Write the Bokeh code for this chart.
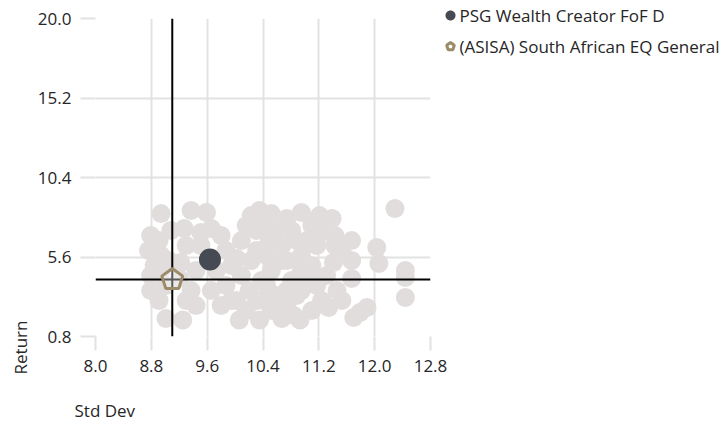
from bokeh.plotting import figure
from bokeh.models import FixedTicker, NumeralTickFormatter, Span
from bokeh.core.properties import value
from bokeh.embed import file_html
from bokeh.resources import INLINE
import math

# Peer funds (std dev, return)
peer_std = [8.94, 8.79, 8.76, 8.91, 8.94, 8.84, 8.79, 8.79, 8.91, 9.01, 9.01, 8.94, 9.08, 9.05,
            9.37, 9.27, 9.30, 9.22, 9.37, 9.30, 9.25, 9.44, 9.20, 9.44,
            9.59, 9.66, 9.80, 9.51, 9.87, 9.73, 9.87, 9.66, 9.95, 9.80, 9.51,
            10.09, 10.02, 10.16, 10.23, 10.31, 10.09, 10.20, 10.02, 10.16, 10.35, 10.23, 10.31, 10.06, 9.95,
            10.35, 10.52, 10.41, 10.59, 10.49, 10.74, 10.67, 10.45, 10.81, 10.74, 10.52, 10.45, 10.59, 10.74,
            10.52, 10.67, 10.41, 10.81, 10.88, 10.84,
            10.95, 11.10, 10.88, 11.03, 11.17, 10.95, 11.10, 11.24, 11.21, 11.03, 11.17, 10.95, 11.24, 11.10,
            10.93, 11.14,
            11.39, 11.43, 11.43, 11.67, 11.53, 11.41, 11.31, 11.46, 11.34, 11.53,
            12.29, 12.03, 12.06, 12.44, 12.44, 12.44, 11.70, 11.79, 11.89, 11.67, 11.67,
            10.67, 10.95, 10.38, 10.74, 10.31]
peer_ret = [8.22, 6.90, 5.99, 6.59, 5.69, 5.08, 4.48, 3.57, 2.97, 3.88, 1.88, 4.78, 7.20, 5.39,
            8.41, 7.32, 6.29, 5.27, 3.57, 2.97, 1.80, 2.67, 4.30, 4.78,
            8.29, 7.32, 6.90, 6.29, 5.99, 4.78, 3.88, 3.57, 2.97, 2.67, 7.08,
            6.59, 5.51, 7.50, 8.10, 7.20, 4.48, 3.57, 2.97, 2.37, 1.80, 5.39, 5.99, 1.80, 5.08,
            8.41, 8.22, 7.50, 7.20, 6.59, 7.92, 6.29, 5.69, 7.20, 5.39, 4.78, 3.88, 3.27, 2.67,
            2.37, 1.88, 2.97, 4.18, 3.27, 2.07,
            8.29, 7.50, 6.59, 6.59, 6.29, 5.69, 5.08, 7.08, 8.10, 4.48, 3.88, 3.57, 2.97, 2.37,
            1.80, 4.48,
            7.92, 6.90, 6.29, 6.59, 5.99, 5.27, 4.48, 3.57, 2.55, 2.97,
            8.53, 6.17, 5.21, 4.78, 4.36, 3.15, 1.94, 2.25, 2.55, 5.39, 4.30,
            5.39, 4.78, 4.18, 3.57, 2.97]

fund_name = "PSG Wealth Creator FoF D"
fund_std = [9.64]
fund_ret = [5.45]

cat_name = "(ASISA) South African EQ General"
cat_std = [9.10]
cat_ret = [4.24]

x_ticks = [8.0, 8.8, 9.6, 10.4, 11.2, 12.0, 12.8]
y_ticks = [0.8, 5.6, 10.4, 15.2, 20.0]
x_title = "Std Dev"
y_title = "Return"

FONT = "Open Sans"
FS = "17px"
TXT = "#262626"
GRID = "#e2e2e2"
DARK = "#464b53"
OLIVE = "#9b8b68"
FW, FH = 335, 318
LEFT, TOP = 95, 18

p = figure(frame_width=FW, frame_height=FH, output_backend="svg", toolbar_location=None,
           x_range=(x_ticks[0], x_ticks[-1]), y_range=(y_ticks[0], y_ticks[-1]),
           min_border_left=LEFT, min_border_right=291, min_border_top=TOP, min_border_bottom=85)
p.outline_line_color = None
p.background_fill_color = "white"

for ax, ticks in ((p.xaxis[0], x_ticks), (p.yaxis[0], y_ticks)):
    ax.ticker = FixedTicker(ticks=ticks)
    ax.formatter = NumeralTickFormatter(format="0.0")
    ax.axis_line_color = None
    ax.major_tick_line_color = GRID
    ax.major_tick_line_width = 2
    ax.major_tick_in = 0
    ax.minor_tick_line_color = None
    ax.major_label_text_font = FONT
    ax.major_label_text_font_size = FS
    ax.major_label_text_color = TXT
p.xaxis.major_tick_out = 14
p.yaxis.major_tick_out = 15
p.xaxis.major_label_standoff = 9
p.yaxis.major_label_standoff = 9

p.xgrid.ticker = FixedTicker(ticks=x_ticks)
p.ygrid.ticker = FixedTicker(ticks=y_ticks)
p.grid.grid_line_color = GRID
p.grid.grid_line_width = 2

p.scatter(peer_std, peer_ret, size=19, color="#e1dddc", line_color=None)
p.scatter(fund_std, fund_ret, size=22, fill_color=DARK, line_color=None)

p.add_layout(Span(location=cat_std[0], dimension="height", line_color="black", line_width=2))
p.add_layout(Span(location=cat_ret[0], dimension="width", line_color="black", line_width=2))

# helpers: pixel offsets from the frame's top-left -> data coordinates (for items outside the frame)
ppx = FW / (x_ticks[-1] - x_ticks[0])
ppy = FH / (y_ticks[-1] - y_ticks[0])
def dx(px):
    return x_ticks[0] + px / ppx
def dy(py):
    return y_ticks[-1] - py / ppy

def polygon(cx, cy, rad, n):
    xs = [cx + rad * math.sin(2 * math.pi * k / n) / ppx for k in range(n)]
    ys = [cy + rad * math.cos(2 * math.pi * k / n) / ppy for k in range(n)]
    return xs, ys

pxs, pys = polygon(cat_std[0], cat_ret[0], 11, 5)
r_pent = p.patch(pxs, pys, fill_color="white", fill_alpha=0.35, line_color=OLIVE, line_width=3)
r_pent.level = "overlay"

# legend (outside the frame, to the right)
lg_x = FW + 20
lg_y = [-3, 28]
dxs, dys = polygon(dx(lg_x), dy(lg_y[0]), 5, 32)
r_ld = p.patch(dxs, dys, fill_color=DARK, line_color=None)
r_ld.level = "overlay"
lxs, lys = polygon(dx(lg_x), dy(lg_y[1]), 4, 5)
r_lp = p.patch(lxs, lys, fill_color="white", line_color=OLIVE, line_width=3)
r_lp.level = "overlay"

def add_text(xs, ys, texts, align="left", angle=0.0):
    r = p.text(x=xs, y=ys, text=texts, angle=angle, text_align=align, text_baseline="middle",
               text_font=value(FONT), text_font_size=value(FS), text_color=TXT)
    r.level = "overlay"
    return r

add_text([dx(lg_x + 9), dx(lg_x + 9)], [dy(lg_y[0]), dy(lg_y[1])], [fund_name, cat_name])
add_text([dx(-75)], [dy(FH + 11)], [y_title], align="center", angle=math.pi / 2)
add_text([dx(-21)], [dy(FH + 74)], [x_title])

open("out.html", "w").write(file_html(p, INLINE))
